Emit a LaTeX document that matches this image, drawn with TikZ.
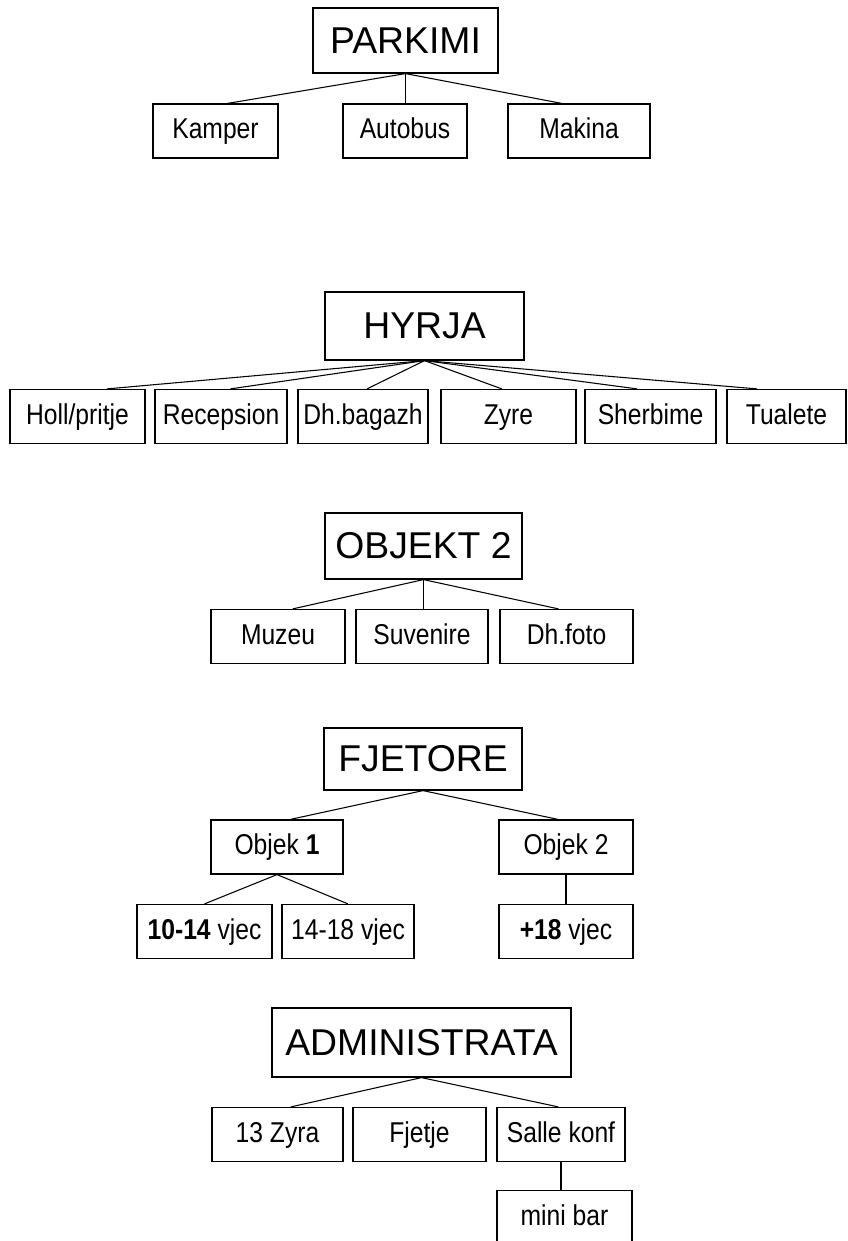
\documentclass[tikz,border=0pt]{standalone}
\usepackage{fontspec}
\setmainfont{Liberation Sans}
\newfontfamily\leaffont{Liberation Sans}[FakeStretch=0.86]

\begin{document}
\begin{tikzpicture}[x=.75pt,y=-.75pt,
    head/.style={draw,line width=.9pt,inner sep=2pt,font=\fontsize{28}{32}\selectfont},
    leaf/.style={draw,line width=.9pt,inner sep=2pt,minimum height=40.5pt,
      text height=15.5pt,text depth=4pt,font=\leaffont\fontsize{21.5}{25}\selectfont},
    link/.style={line width=.8pt}]
        \useasboundingbox (0,0) rectangle (848,1241);

        % parking
        \node[head,minimum width=138.75pt,minimum height=48.75pt] (parkimi) at (405.5,40.5) {PARKIMI};
        \node[leaf,minimum width=93.75pt] (kamper) at (215.5,131) {Kamper};
        \node[leaf,minimum width=93pt] (autobus) at (405,131) {Autobus};
        \node[leaf,minimum width=106.5pt] (makina) at (579,131) {Makina};
        \draw[link] (parkimi.south) -- ([xshift=9pt]kamper.north);
        \draw[link] (parkimi.south) -- (parkimi.south |- autobus.north);
        \draw[link] (parkimi.south) -- ([xshift=-13pt]makina.north);

        % entrance
        \node[head,minimum width=149.25pt,minimum height=51pt] (hyrja) at (424.5,326) {HYRJA};
        \node[leaf,minimum width=101.25pt] (holl) at (77.5,416.5) {Holl/pritje};
        \node[leaf,minimum width=99pt] (recepsion) at (221,416.5) {Recepsion};
        \node[leaf,minimum width=97.5pt] (bagazh) at (363,416.5) {Dh.bagazh};
        \node[leaf,minimum width=101.25pt] (zyre) at (508.5,416.5) {Zyre};
        \node[leaf,minimum width=98.25pt] (sherbime) at (650.5,416.5) {Sherbime};
        \node[leaf,minimum width=89.25pt] (tualete) at (786.5,416.5) {Tualete};
        \draw[link] (hyrja.south) -- ([xshift=22pt]holl.north);
        \draw[link] (hyrja.south) -- ([xshift=7pt]recepsion.north);
        \draw[link] (hyrja.south) -- ([xshift=3pt]bagazh.north);
        \draw[link] (hyrja.south) -- ([xshift=-5pt]zyre.north);
        \draw[link] (hyrja.south) -- ([xshift=-10pt]sherbime.north);
        \draw[link] (hyrja.south) -- ([xshift=-22pt]tualete.north);

        % second building
        \node[head,minimum width=147.75pt,minimum height=49.5pt] (objekt) at (423.5,546) {OBJEKT 2};
        \node[leaf,minimum width=100.5pt] (muzeu) at (278,636.5) {Muzeu};
        \node[leaf,minimum width=99pt] (suvenire) at (422,636.5) {Suvenire};
        \node[leaf,minimum width=99.75pt] (foto) at (566.5,636.5) {Dh.foto};
        \draw[link] (objekt.south) -- ([xshift=11pt]muzeu.north);
        \draw[link] (objekt.south) -- (objekt.south |- suvenire.north);
        \draw[link] (objekt.south) -- ([xshift=-6pt]foto.north);

        % dormitories
        \node[head,minimum width=148.5pt,minimum height=46.5pt] (fjetore) at (423,759) {FJETORE};
        \node[leaf,minimum width=99pt] (objekA) at (277,847) {Objek \textbf{1}};
        \node[leaf,minimum width=100.5pt] (objekB) at (566,847) {Objek 2};
        \node[leaf,minimum width=101.25pt] (moshaA) at (204.5,931.5) {\textbf{10-14} vjec};
        \node[leaf,minimum width=99pt] (moshaB) at (348,931.5) {14-18 vjec};
        \node[leaf,minimum width=100.5pt] (moshaC) at (566,931.5) {\textbf{+18} vjec};
        \draw[link] (fjetore.south) -- ([xshift=10pt]objekA.north);
        \draw[link] (fjetore.south) -- ([xshift=-6pt]objekB.north);
        \draw[link] (objekA.south) -- (moshaA.north);
        \draw[link] (objekA.south) -- (moshaB.north);
        \draw[link] (objekB.south) -- (moshaC.north);

        % administration
        \node[head,minimum width=224.25pt,minimum height=51.75pt] (admin) at (421.5,1042.5) {ADMINISTRATA};
        \node[leaf,minimum width=98.25pt] (zyra) at (277.5,1134.5) {13 Zyra};
        \node[leaf,minimum width=99.75pt] (fjetje) at (419.5,1134.5) {Fjetje};
        \node[leaf,minimum width=96pt] (salle) at (561,1134.5) {Salle konf};
        \node[leaf,minimum width=101.25pt] (minibar) at (564.5,1217.5) {mini bar};
        \draw[link] (admin.south) -- ([xshift=10pt]zyra.north);
        \draw[link] (admin.south) -- ([xshift=-2pt]salle.north);
        \draw[link] (salle.south) -- (salle.south |- minibar.north);
      \end{tikzpicture}
\end{document}
